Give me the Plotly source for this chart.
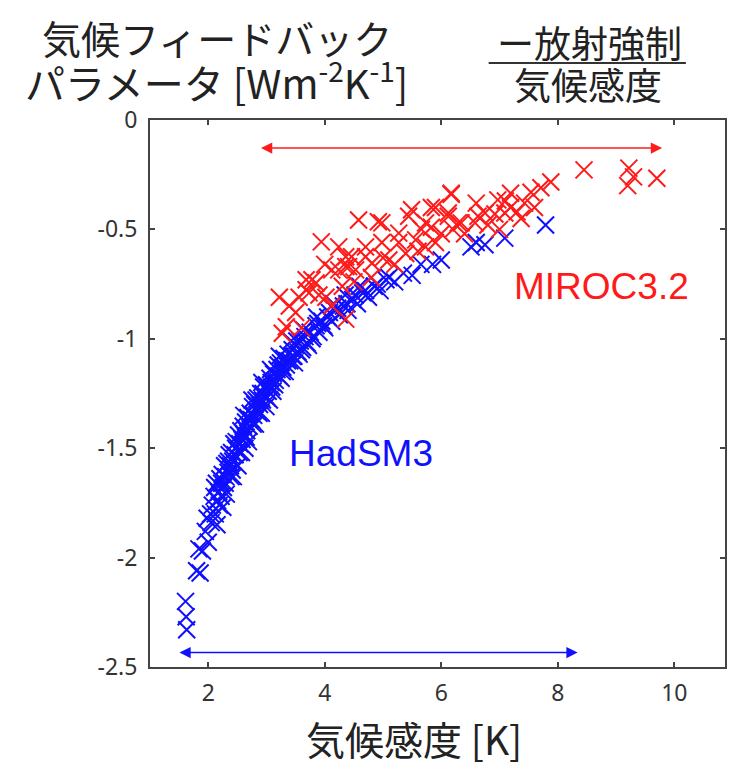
import plotly.graph_objects as go

# HadSM3 ensemble: climate sensitivity [K] vs feedback parameter [W m-2 K-1]
hadsm3_sens = [
    1.61, 1.62, 1.63, 1.80, 1.86, 1.84, 1.90, 1.95, 1.98, 2.00,
    2.04, 2.07, 2.10, 2.12, 2.14, 2.16, 2.18, 2.20, 2.22, 2.24,
    2.26, 2.28, 2.30, 2.32, 2.34, 2.36, 2.38, 2.40, 2.42, 2.44,
    2.46, 2.48, 2.50, 2.52, 2.54, 2.56, 2.58, 2.60, 2.62, 2.64,
    2.66, 2.68, 2.70, 2.72, 2.74, 2.76, 2.78, 2.80, 2.83, 2.85,
    2.88, 2.90, 2.93, 2.95, 2.98, 3.00, 3.03, 3.06, 3.09, 3.12,
    3.15, 3.18, 3.21, 3.24, 3.27, 3.30, 3.34, 3.37, 3.40, 3.44,
    3.47, 3.50, 3.54, 3.58, 3.62, 3.66, 3.70, 3.75, 3.80, 3.85,
    3.90, 3.95, 4.00, 4.05, 4.12, 4.18, 4.25, 4.32, 4.40, 4.48,
    4.56, 4.65, 4.75, 4.85, 4.95, 5.05, 5.20, 5.35, 5.50, 5.65,
    5.85, 6.00, 6.51, 6.60, 6.75, 7.09, 7.79,
    2.05, 2.11, 2.19, 2.23, 2.29, 2.35, 2.41, 2.47, 2.53, 2.59,
    2.65, 2.71, 2.77, 2.82, 2.87, 2.94, 3.01, 3.08, 3.14, 3.20,
    3.28, 3.36, 3.45, 3.52, 3.60, 3.68, 3.78, 3.88, 3.98, 4.08,
    4.22, 4.38, 4.52, 4.70, 4.90, 5.10,
    2.15, 2.25, 2.31, 2.43, 2.51, 2.63, 2.69, 2.81, 2.91, 3.05,
    3.11, 3.25, 3.32, 3.48, 3.56, 3.72, 2.61, 2.75, 2.92, 3.07,
    3.22, 3.42, 3.64, 3.86, 4.15, 4.35, 4.60, 2.39, 2.57, 2.99,
]
hadsm3_lambda = [
    -2.20, -2.27, -2.33, -2.06, -2.07, -1.96, -1.97, -1.88, -1.82, -1.93,
    -1.80, -1.76, -1.72, -1.80, -1.66, -1.74, -1.70, -1.64, -1.72, -1.62,
    -1.68, -1.58, -1.63, -1.57, -1.61, -1.53, -1.58, -1.52, -1.56, -1.48,
    -1.53, -1.47, -1.51, -1.44, -1.48, -1.42, -1.46, -1.40, -1.44, -1.38,
    -1.42, -1.36, -1.40, -1.34, -1.37, -1.31, -1.35, -1.30, -1.33, -1.27,
    -1.30, -1.25, -1.28, -1.22, -1.26, -1.21, -1.24, -1.18, -1.22, -1.16,
    -1.19, -1.14, -1.17, -1.11, -1.15, -1.09, -1.12, -1.07, -1.10, -1.05,
    -1.08, -1.03, -1.06, -1.01, -1.04, -0.99, -1.02, -0.97, -0.99, -0.94,
    -0.97, -0.92, -0.95, -0.90, -0.92, -0.87, -0.89, -0.85, -0.87, -0.82,
    -0.84, -0.79, -0.81, -0.76, -0.78, -0.73, -0.74, -0.70, -0.71, -0.66,
    -0.66, -0.64, -0.58, -0.56, -0.57, -0.54, -0.48,
    -1.84, -1.68, -1.76, -1.66, -1.66, -1.56, -1.60, -1.50, -1.52, -1.43,
    -1.45, -1.37, -1.39, -1.28, -1.34, -1.25, -1.27, -1.20, -1.21, -1.12,
    -1.13, -1.10, -1.08, -1.01, -1.05, -0.97, -1.00, -0.93, -0.94, -0.88,
    -0.86, -0.84, -0.80, -0.78, -0.75, -0.72,
    -1.85, -1.77, -1.71, -1.63, -1.58, -1.50, -1.47, -1.39, -1.34, -1.28,
    -1.24, -1.18, -1.15, -1.11, -1.07, -1.03, -1.35, -1.28, -1.20, -1.14,
    -1.08, -1.01, -0.96, -0.90, -0.84, -0.80, -0.76, -1.63, -1.52, -1.31,
]

# MIROC3.2 ensemble
miroc_sens = [
    3.27, 3.34, 3.22, 3.39, 3.56, 3.68, 3.68, 3.73, 3.78, 3.85,
    3.94, 4.02, 4.12, 4.12, 4.24, 4.24, 4.36, 4.36, 4.36, 4.41,
    4.46, 4.53, 4.58, 4.70, 4.70, 4.81, 4.92, 4.98, 4.98, 5.10,
    5.27, 5.27, 5.39, 5.44, 5.49, 5.56, 5.66, 5.73, 5.73, 5.83,
    5.83, 5.90, 6.12, 6.12, 6.17, 6.17, 6.29, 6.34, 6.58, 6.63,
    6.75, 6.92, 6.97, 7.09, 7.19, 7.19, 7.37, 7.43, 7.54, 7.71,
    7.88, 8.45, 9.22, 9.30, 9.20, 9.70,
    3.50, 3.90, 4.00, 4.50, 4.80, 5.00, 5.20, 5.60, 6.00, 6.40,
    6.80, 7.00, 7.30, 7.60, 4.30, 3.60, 5.90, 6.20, 6.60, 7.10,
]
miroc_lambda = [
    -0.975, -0.945, -0.81, -0.85, -0.81, -0.73, -0.776, -0.79, -0.73, -0.745,
    -0.557, -0.81, -0.85, -0.685, -0.58, -0.685, -0.67, -0.625, -0.91, -0.67,
    -0.625, -0.685, -0.457, -0.58, -0.625, -0.655, -0.465, -0.47, -0.56, -0.64,
    -0.56, -0.517, -0.61, -0.44, -0.41, -0.548, -0.50, -0.58, -0.47, -0.40,
    -0.49, -0.40, -0.425, -0.44, -0.335, -0.34, -0.47, -0.47, -0.47, -0.44,
    -0.425, -0.43, -0.365, -0.425, -0.40, -0.335, -0.45, -0.38, -0.33, -0.31,
    -0.283, -0.228, -0.22, -0.26, -0.30, -0.266,
    -0.88, -0.80, -0.66, -0.74, -0.72, -0.63, -0.66, -0.60, -0.52, -0.52,
    -0.48, -0.50, -0.42, -0.40, -0.76, -0.95, -0.56, -0.50, -0.38, -0.37,
]

# Ranges of climate sensitivity spanned by each ensemble (double arrows)
miroc_range = [2.88, 9.79]
miroc_range_level = -0.128
hadsm3_range = [1.48, 8.34]
hadsm3_range_level = -2.434

x_ticks = [2, 4, 6, 8, 10]
x_tick_text = ["2", "4", "6", "8", "10"]
y_ticks = [0, -0.5, -1, -1.5, -2, -2.5]
y_tick_text = ["0", "-0.5", "-1", "-1.5", "-2", "-2.5"]

RED = "#ff1a1a"
BLUE = "#1010ff"
JP_FONT = "Noto Sans CJK JP"
LATIN_FONT = "Liberation Sans"
TEXT_COLOR = "#222"

fig = go.Figure()

fig.add_trace(go.Scatter(
    x=hadsm3_sens, y=hadsm3_lambda, mode="markers", name="HadSM3",
    marker=dict(symbol="x-thin", size=17, line=dict(color=BLUE, width=2)),
))
fig.add_trace(go.Scatter(
    x=miroc_sens, y=miroc_lambda, mode="markers", name="MIROC3.2",
    marker=dict(symbol="x-thin", size=17, line=dict(color=RED, width=2)),
))

annotations = []

# Double-headed range arrows
for (x0, x1), level, color in [
    (miroc_range, miroc_range_level, RED),
    (hadsm3_range, hadsm3_range_level, BLUE),
]:
    annotations.append(dict(
        x=x1, y=level, ax=x0, ay=level, xref="x", yref="y",
        axref="x", ayref="y", text="", showarrow=True,
        arrowhead=2, startarrowhead=2, arrowside="end+start",
        arrowsize=1.5, startarrowsize=1.5, arrowwidth=1.5, arrowcolor=color,
        standoff=0, startstandoff=0,
    ))

# Series labels
annotations.append(dict(
    x=8.75, y=-0.763, xref="x", yref="y", text="MIROC3.2", showarrow=False,
    xanchor="center", yanchor="middle",
    font=dict(family=LATIN_FONT, size=37, color=RED),
))
annotations.append(dict(
    x=4.62, y=-1.525, xref="x", yref="y", text="HadSM3", showarrow=False,
    xanchor="center", yanchor="middle",
    font=dict(family=LATIN_FONT, size=37, color=BLUE),
))


def paper_text(x, y, text, size):
    return dict(
        x=x, y=y, xref="paper", yref="paper", text=text, showarrow=False,
        xanchor="center", yanchor="middle",
        font=dict(family=JP_FONT, size=size, color=TEXT_COLOR),
    )


# Axis titles placed around the frame
annotations.append(paper_text(0.116, 1.152, "気候フィードバック", 39))
annotations.append(paper_text(
    0.116, 1.073, "パラメータ [Wm<sup>-2</sup>K<sup>-1</sup>]", 40))
annotations.append(paper_text(0.765, 1.143, "ー放射強制", 37))
annotations.append(paper_text(0.762, 1.066, "気候感度", 37))
annotations.append(paper_text(0.459, -0.130, "気候感度 [K]", 39))

fig.add_shape(
    type="line", xref="paper", yref="paper",
    x0=0.589, x1=0.932, y0=1.104, y1=1.104,
    line=dict(color="#333", width=2),
)

axis_common = dict(
    showline=True, linecolor="#444", linewidth=2, mirror="ticks",
    ticks="inside", ticklen=5, tickwidth=1.5, tickcolor="#444",
    showgrid=False, zeroline=False,
    tickfont=dict(family="Noto Sans", size=23, color="#333"),
)

fig.update_xaxes(range=[1, 10.87], tickvals=x_ticks, ticktext=x_tick_text,
                 ticklabelstandoff=4, **axis_common)
fig.update_yaxes(range=[-2.5, 0], tickvals=y_ticks, ticktext=y_tick_text,
                 ticklabelstandoff=6, **axis_common)

fig.update_layout(
    width=734, height=768,
    margin=dict(l=150, r=7, t=120, b=101),
    plot_bgcolor="white", paper_bgcolor="white",
    showlegend=False,
    annotations=annotations,
)

fig.write_html("out.html")
